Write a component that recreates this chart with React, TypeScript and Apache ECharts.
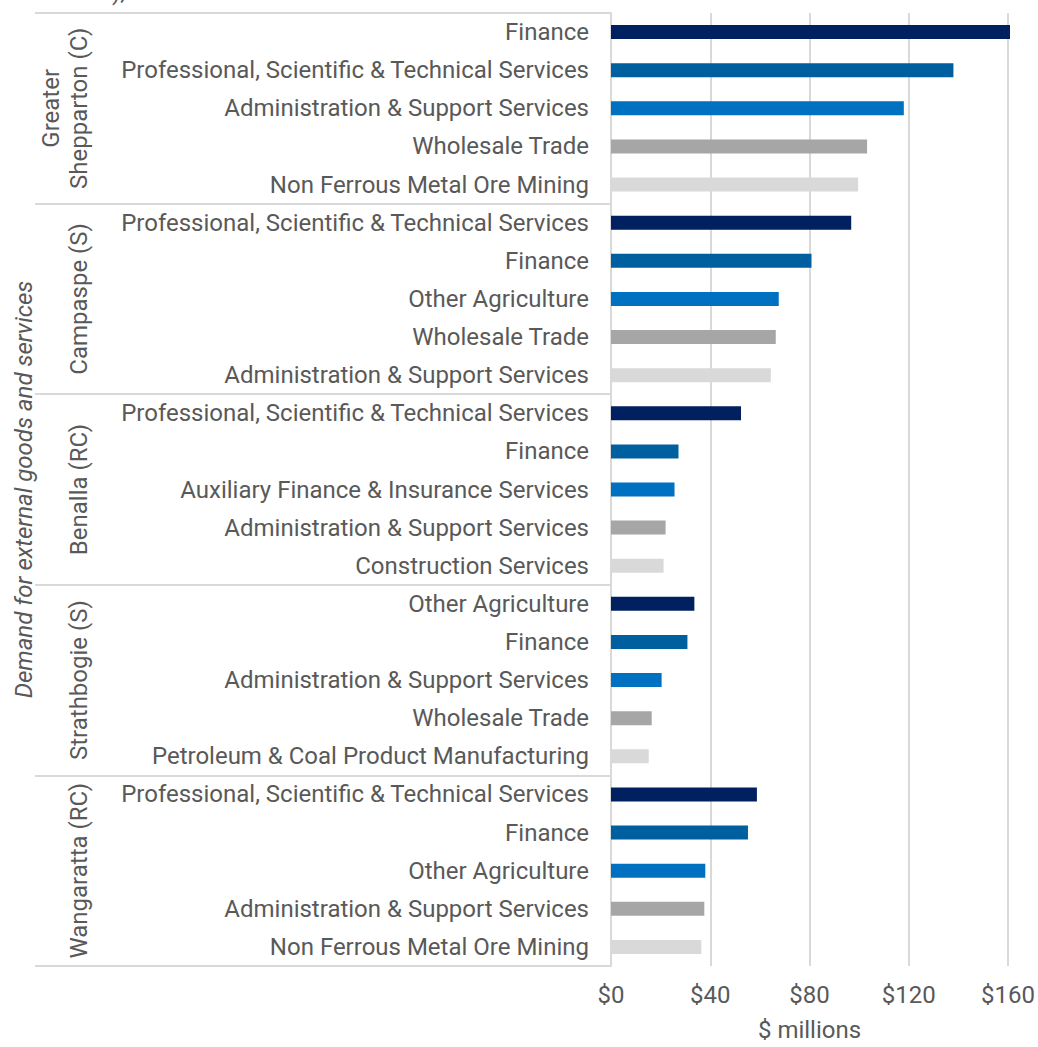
import React, { useEffect, useRef } from "react";
import * as echarts from "echarts";

const regions = ["Greater\nShepparton (C)", "Campaspe (S)", "Benalla (RC)", "Strathbogie (S)", "Wangaratta (RC)"];

const sheppartonIndustries = ["Finance", "Professional, Scientific & Technical Services", "Administration & Support Services", "Wholesale Trade", "Non Ferrous Metal Ore Mining"];
const sheppartonValues = [160.8, 138, 118, 103.2, 99.6];

const campaspeIndustries = ["Professional, Scientific & Technical Services", "Finance", "Other Agriculture", "Wholesale Trade", "Administration & Support Services"];
const campaspeValues = [96.8, 80.8, 67.6, 66.4, 64.4];

const benallaIndustries = ["Professional, Scientific & Technical Services", "Finance", "Auxiliary Finance & Insurance Services", "Administration & Support Services", "Construction Services"];
const benallaValues = [52.4, 27.2, 25.6, 22, 21.2];

const strathbogieIndustries = ["Other Agriculture", "Finance", "Administration & Support Services", "Wholesale Trade", "Petroleum & Coal Product Manufacturing"];
const strathbogieValues = [33.6, 30.8, 20.4, 16.4, 15.2];

const wangarattaIndustries = ["Professional, Scientific & Technical Services", "Finance", "Other Agriculture", "Administration & Support Services", "Non Ferrous Metal Ore Mining"];
const wangarattaValues = [58.8, 55.2, 38, 37.6, 36.4];

const rankColors = ["#002060", "#005F9F", "#0070C0", "#A6A6A6", "#D9D9D9"];
const xTicks = [0, 40, 80, 120, 160];

const industryGroups = [sheppartonIndustries, campaspeIndustries, benallaIndustries, strathbogieIndustries, wangarattaIndustries];
const valueGroups = [sheppartonValues, campaspeValues, benallaValues, strathbogieValues, wangarattaValues];

export default function App() {
  const ref = useRef<HTMLDivElement>(null);
  useEffect(() => {
    if (!ref.current) return;
    const chart = echarts.init(ref.current, undefined, { renderer: "svg" });
    const labels: string[] = [];
    const data: any[] = [];
    industryGroups.forEach((g, gi) => {
      g.forEach((name, i) => {
        labels.push(name);
        data.push({ value: valueGroups[gi][i], itemStyle: { color: rankColors[i] } });
      });
    });
    const font = "Roboto, 'Noto Sans', sans-serif";
    const textColor = "#595959";
    const lineColor = "#D9D9D9";
    const fs = 24;
    chart.setOption({
      animation: false,
      textStyle: { fontFamily: font },
      grid: { left: 611, right: 27, top: 13, bottom: 78, containLabel: false },
      xAxis: {
        type: "value",
        min: xTicks[0],
        max: xTicks[xTicks.length - 1],
        interval: 40,
        axisLine: { show: false },
        axisTick: { show: false },
        splitLine: { show: true, lineStyle: { color: lineColor, width: 2 } },
        axisLabel: {
          formatter: (v: number) => "$" + v,
          fontSize: fs,
          color: textColor,
          fontFamily: font,
          margin: 17,
        },
        name: "$ millions",
        nameLocation: "middle",
        nameGap: 52,
        nameTextStyle: { fontSize: fs, color: textColor, fontFamily: font },
      },
      yAxis: [
        {
          type: "category",
          inverse: true,
          data: labels.map((_, i) => String(i)),
          axisLine: { show: false },
          axisTick: { show: false },
          axisLabel: {
            formatter: (_v: string, i: number) => labels[i],
            fontSize: fs,
            color: textColor,
            fontFamily: font,
            margin: 22,
            interval: 0,
          },
        },
        {
          type: "category",
          inverse: true,
          position: "left",
          data: regions,
          axisLine: { show: true, lineStyle: { color: lineColor, width: 2 } },
          axisTick: { show: true, length: 576, lineStyle: { color: lineColor, width: 2 } },
          axisLabel: {
            rotate: 90,
            fontSize: fs,
            lineHeight: 28,
            color: textColor,
            fontFamily: font,
            margin: 518,
            interval: 0,
          },
          name: "Demand for external goods and services",
          nameLocation: "middle",
          nameRotate: 90,
          nameGap: 574,
          nameTextStyle: { fontSize: fs, color: textColor, fontStyle: "italic", fontFamily: font },
        },
      ],
      graphic: [
        {
          type: "text",
          left: 112,
          top: -20,
          style: { text: "),", fontSize: fs, fill: textColor, fontFamily: font },
        },
      ],
      series: [
        {
          type: "bar",
          yAxisIndex: 0,
          data,
          barWidth: 14,
          clip: false,
        },
      ],
    });
    return () => chart.dispose();
  }, []);
  return <div ref={ref} style={{ width: 1038, height: 1047, position: "absolute", left: 0, top: 0 }} />;
}
